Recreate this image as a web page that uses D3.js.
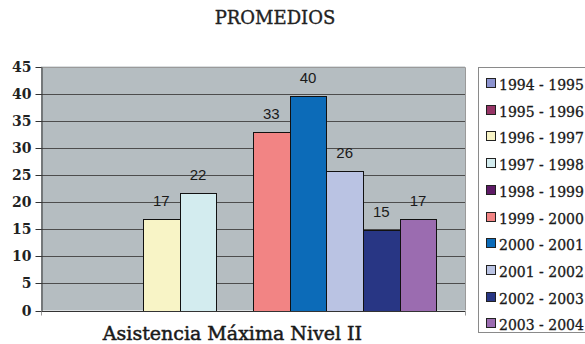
<html>
<head>
<meta charset="utf-8">
<script src="https://d3js.org/d3.v7.min.js"></script>
<style>
  body { margin: 0; background: #fff; }
  svg { display: block; }
</style>
</head>
<body>
<script>
  // chart data
  var categories = ["Asistencia Máxima Nivel II"];
  var seriesNames = ["1994 - 1995", "1995 - 1996", "1996 - 1997", "1997 - 1998", "1998 - 1999",
                     "1999 - 2000", "2000 - 2001", "2001 - 2002", "2002 - 2003", "2003 - 2004"];
  var seriesValues = [null, null, 16.9, 21.6, null, 33.0, 39.6, 25.7, 14.9, 16.9];
  var seriesColors = ["#8c93cf", "#963466", "#f8f4c6", "#d3ecef", "#5e1a66",
                      "#f28484", "#0c6bb8", "#bac3e3", "#283684", "#9b6cb0"];
  var yTicks = [0, 5, 10, 15, 20, 25, 30, 35, 40, 45];

  var W = 585, H = 344;
  var plot = {left: 41, right: 465, top: 66.5, bottom: 310.5};

  var svg = d3.select("body").append("svg")
    .attr("width", W)
    .attr("height", H)

  var x = d3.scaleBand().domain(categories).range([plot.left, plot.right]).paddingOuter(0.078).paddingInner(0);
  var xs = d3.scaleBand().domain(seriesNames).range([0, x.bandwidth()]).padding(0);
  var y = d3.scaleLinear().domain([0, 45]).range([plot.bottom, plot.top]);
  var color = d3.scaleOrdinal().domain(seriesNames).range(seriesColors);

  // title
  svg.append("text")
    .attr("x", 275).attr("y", 24)
    .attr("text-anchor", "middle")
    .attr("font-family", "DejaVu Serif")
    .attr("font-size", 18)
    .attr("fill", "#222")
    .attr("stroke", "#222").attr("stroke-width", 0.35)
    .text("PROMEDIOS");

  // plot background
  svg.append("rect")
    .attr("x", plot.left).attr("y", plot.top)
    .attr("width", plot.right - plot.left).attr("height", plot.bottom - plot.top)
    .attr("fill", "#b5bdc1");

  // gridlines
  svg.append("g").selectAll("line")
    .data(yTicks.filter(function(d) { return d > 0 && d < 45; }))
    .enter().append("line")
      .attr("x1", plot.left).attr("x2", plot.right)
      .attr("y1", function(d) { return Math.round(y(d)) + 0.5; })
      .attr("y2", function(d) { return Math.round(y(d)) + 0.5; })
      .attr("stroke", "#4d4d4d");

  // plot border (top and right)
  svg.append("path")
    .attr("d", "M" + plot.left + "," + (Math.round(plot.top) + 0.5) + "H" + (plot.right + 0.5) + "V" + plot.bottom)
    .attr("fill", "none")
    .attr("stroke", "#9a9a9a");

  // bars
  var cat = categories[0];
  svg.append("g").selectAll("rect")
    .data(seriesNames.map(function(s, i) { return {name: s, value: seriesValues[i]}; })
      .filter(function(d) { return d.value != null; }))
    .enter().append("rect")
      .attr("x", function(d) { return Math.round(x(cat) + xs(d.name)) + 0.5; })
      .attr("y", function(d) { return Math.round(y(d.value)) + 0.5; })
      .attr("width", function(d) { return Math.round(x(cat) + xs(d.name) + xs.bandwidth()) - Math.round(x(cat) + xs(d.name)); })
      .attr("height", function(d) { return Math.round(y(0)) - Math.round(y(d.value)); })
      .attr("fill", function(d) { return color(d.name); })
      .attr("stroke", "#111")
      .attr("stroke-width", 1);

  // value labels
  svg.append("g").selectAll("text")
    .data(seriesNames.map(function(s, i) { return {name: s, value: seriesValues[i]}; })
      .filter(function(d) { return d.value != null; }))
    .enter().append("text")
      .attr("x", function(d) { return x(cat) + xs(d.name) + xs.bandwidth() / 2; })
      .attr("y", function(d) { return y(d.value) - 13; })
      .attr("text-anchor", "middle")
      .attr("font-family", "Liberation Sans, Arial")
      .attr("font-size", 15)
      .attr("fill", "#1a1a1a")
      .text(function(d) { return d3.format(".0f")(d.value); });

  // y axis
  var yAxis = svg.append("g")
    .attr("transform", "translate(" + (plot.left + 0.5) + ",0.5)")
    .call(d3.axisLeft(y).tickValues(yTicks).tickSize(6).tickPadding(4).tickSizeOuter(0));
  yAxis.select(".domain").attr("stroke", "#333");
  yAxis.selectAll(".tick line").attr("stroke", "#333");
  yAxis.selectAll(".tick").attr("transform", function(d) { return "translate(0," + Math.round(y(d)) + ")"; });
  yAxis.selectAll("text")
    .attr("font-family", "DejaVu Serif")
    .attr("font-weight", "bold")
    .attr("font-size", 14)
    .attr("fill", "#222");

  // x axis line
  var xAxis = svg.append("g")
    .attr("transform", "translate(0," + (Math.round(plot.bottom) + 0.5) + ")")
    .call(d3.axisBottom(x).tickSize(0).tickFormat(""));
  xAxis.select(".domain").attr("stroke", "#333").attr("d", "M" + (plot.left - 5) + ",0H" + (plot.right + 0.5));
  xAxis.append("line").attr("x1", plot.left + 0.5).attr("x2", plot.left + 0.5).attr("y1", 0).attr("y2", 4).attr("stroke", "#999");
  xAxis.append("line").attr("x1", plot.right + 0.5).attr("x2", plot.right + 0.5).attr("y1", 0).attr("y2", 4).attr("stroke", "#999");

  // category label
  svg.append("text")
    .attr("x", 232.5)
    .attr("y", 340)
    .attr("text-anchor", "middle")
    .attr("font-family", "DejaVu Serif")
    .attr("font-size", 19)
    .attr("fill", "#1a1a1a")
    .attr("stroke", "#1a1a1a").attr("stroke-width", 0.5)
    .text(cat);

  // legend
  var lg = svg.append("g");
  lg.append("rect")
    .attr("x", 478.5).attr("y", 67.5)
    .attr("width", 120).attr("height", 265)
    .attr("fill", "#fff")
    .attr("stroke", "#8a8a8a");
  var item = lg.selectAll("g.item")
    .data(seriesNames)
    .enter().append("g")
      .attr("class", "item")
      .attr("transform", function(d, i) { return "translate(486," + Math.round(78 + i * 26.7) + ")"; });
  item.append("rect")
    .attr("x", 0.5).attr("y", 0.5)
    .attr("width", 9).attr("height", 9)
    .attr("fill", function(d) { return color(d); })
    .attr("stroke", "#222");
  item.append("text")
    .attr("x", 13).attr("y", 11.5)
    .attr("font-family", "DejaVu Serif")
    .attr("font-size", 14)
    .attr("fill", "#1a1a1a")
    .attr("stroke", "#1a1a1a").attr("stroke-width", 0.3)
    .text(function(d) { return d; });
</script>
</body>
</html>
